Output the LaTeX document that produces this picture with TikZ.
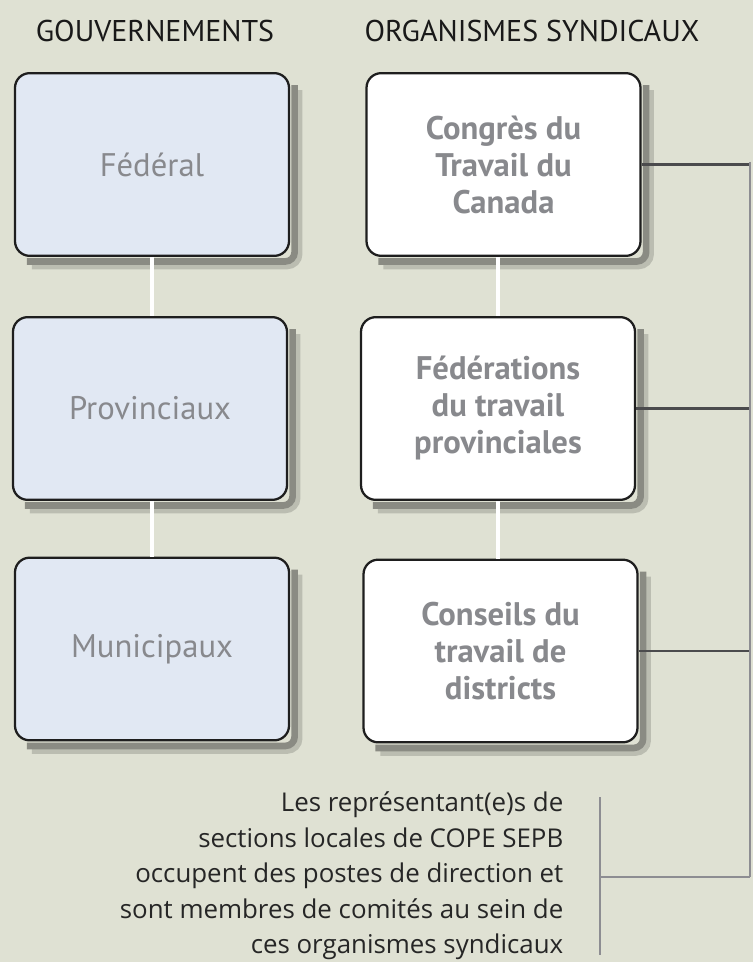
\documentclass[tikz,border=0pt]{standalone}
\usepackage{fontspec}
\setmainfont{Open Sans}
\newfontfamily\boxfont{PT Sans}
\usepackage{xcolor}
\usepackage{tikz}

\definecolor{bgsage}{RGB}{223,225,211}
\definecolor{govfill}{RGB}{225,232,243}
\definecolor{boxtext}{RGB}{136,137,141}
\definecolor{linkdark}{RGB}{75,75,77}
\definecolor{linkgray}{RGB}{141,141,146}
\definecolor{notetext}{RGB}{38,38,38}
\colorlet{shadeout}{bgsage!84!black}
\colorlet{shadein}{bgsage!62!black}

\tikzset{
  orgbox/.style={draw={rgb,255:red,30;green,30;blue,30}, line width=1.7pt, rounded corners=11pt,
    minimum width=205.5pt, minimum height=137pt, align=center, text=boxtext},
  govbox/.style={orgbox, fill=govfill, font=\boxfont\fontsize{24.5}{29}\selectfont},
  unionbox/.style={orgbox, fill=white, font=\boxfont\bfseries\fontsize{24.5}{27.75}\selectfont},
  colhead/.style={font=\boxfont\fontsize{22.5}{26}\selectfont, text=black!90},
  shadeouter/.style={draw=shadeout, line width=5pt, rounded corners=9pt},
  shadeinner/.style={draw=shadein, line width=5pt, rounded corners=7pt},
  columnlink/.style={draw=white, line width=3.5pt},
  stublink/.style={draw=linkdark, line width=2.2pt},
  spinelink/.style={draw=linkgray, line width=1.9pt},
}

\begin{document}
\begin{tikzpicture}[x=0.75pt,y=0.75pt,yscale=-1,xscale=1]
%set diagram: 753 wide, 962 high
\fill [bgsage] (0,0) rectangle (753,962);
\useasboundingbox (0,0) rectangle (753,962);

% Headers
\draw (155,31) node [colhead] (gouvhead) {GOUVERNEMENTS};
\draw (532,31) node [colhead] (synhead) {ORGANISMES SYNDICAUX};

% Government boxes
\draw (152,164.5) node [govbox] (federal) {Fédéral};
\draw (150,408.5) node [govbox] (provinciaux) {Provinciaux};
\draw (152,649) node [govbox] (municipaux) {Municipaux};

% Union boxes
\draw (503.5,164.5) node [unionbox] (congres) {Congrès du\\Travail du\\Canada};
\draw (498,408.5) node [unionbox] (federations) {Fédérations\\du travail\\provinciales};
\draw (500.5,651) node [unionbox] (conseils) {Conseils du\\travail de\\districts};

% Shadows along right and bottom edges
\foreach \boxname in {federal,provinciaux,municipaux,congres,federations,conseils}{
  \draw [shadeouter] ([shift={(9,18)}]\boxname.north east) -- ([shift={(9,9)}]\boxname.south east) -- ([shift={(18,9)}]\boxname.south west);
  \draw [shadeinner] ([shift={(4.5,13)}]\boxname.north east) -- ([shift={(4.5,4.5)}]\boxname.south east) -- ([shift={(13,4.5)}]\boxname.south west);
}

% Column links
\draw [columnlink] (federal.south) -- (federal.south |- provinciaux.north);
\draw [columnlink] (provinciaux.south -| federal.south) -- (federal.south |- municipaux.north);
\draw [columnlink] (conseils.north -| federations.south) -- (federations.south);
\draw [columnlink] (congres.south -| federations.north) -- (federations.north);

% Right bracket
\coordinate (spinetop) at (750,162);
\coordinate (spinebot) at (750,877);
\coordinate (notebar) at (600,877);
\coordinate (notetop) at (600,797);
\coordinate (notebot) at (600,955);
\draw [stublink] (congres.east) -- (congres.east -| spinetop);
\draw [stublink] (federations.east) -- (federations.east -| spinetop);
\draw [stublink] (conseils.east) -- (conseils.east -| spinetop);
\draw [spinelink] (spinetop) -- (spinebot);
\draw [spinelink] (notebar) -- (spinebot);
\draw [spinelink] (notetop) -- (notebot);

% Text Node
\draw (568,876) node [anchor=east, align=right, text=notetext, font=\fontsize{19.4}{26.6}\selectfont] (note) {Les représentant(e)s de\\sections locales de COPE SEPB\\occupent des postes de direction et\\sont membres de comités au sein de\\ces organismes syndicaux};

\end{tikzpicture}
\end{document}
